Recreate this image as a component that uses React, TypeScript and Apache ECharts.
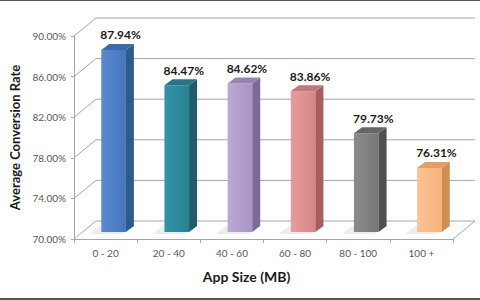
import React, { useEffect, useRef } from "react";
import * as echarts from "echarts";

const categories = ["0 - 20", "20 - 40", "40 - 60", "60 - 80", "80 - 100", "100 +"];
const conversionRates = [87.94, 84.47, 84.62, 83.86, 79.73, 76.31];
const yTicks = [70, 74, 78, 82, 86, 90];
const yMin = 70;
const yMax = 90;
const yStep = 4;

const frontLight = ["#5b8cd2", "#3494a8", "#bba9d6", "#e59e9d", "#8c8c8c", "#fcc595"];
const frontDark = ["#4474b9", "#2a7f92", "#a894c3", "#d48786", "#777777", "#f6b27a"];
const sideColors = ["#2f5a8f", "#1e5c6b", "#7e6a9a", "#a55f5f", "#4f4f4f", "#d28b50"];
const topColors = ["#3e6ba8", "#267586", "#9784b3", "#c07878", "#666666", "#e49e63"];

const FONT = "Lato, 'Open Sans', sans-serif";
const DX = 22;
const DY = 18;
const GRID_COLOR = "#a6a6a6";

export default function App() {
  const ref = useRef<HTMLDivElement>(null);
  useEffect(() => {
    document.body.style.margin = "0";
    if (!ref.current) return;
    const chart = echarts.init(ref.current, undefined, { renderer: "svg" });
    const option: any = {
      animation: false,
      backgroundColor: "#ffffff",
      grid: { left: 70, right: 27, top: 36, bottom: 61 },
      xAxis: {
        type: "category",
        data: categories,
        name: "App Size (MB)",
        nameLocation: "middle",
        nameGap: 30,
        nameTextStyle: {
          fontFamily: FONT,
          fontWeight: "bold",
          fontSize: 14,
          color: "#1a1a1a",
          padding: [0, 34, 0, 0],
        },
        axisLine: { show: true, lineStyle: { color: GRID_COLOR, width: 1 } },
        axisTick: { show: true, length: 4, lineStyle: { color: GRID_COLOR } },
        axisLabel: { color: "#595959", fontSize: 10, fontFamily: FONT, margin: 9 },
        splitLine: { show: false },
      },
      yAxis: {
        type: "value",
        min: yMin,
        max: yMax,
        interval: yStep,
        name: "Average Conversion Rate",
        nameLocation: "middle",
        nameRotate: 90,
        nameGap: 53,
        nameTextStyle: {
          fontFamily: FONT,
          fontWeight: "bold",
          fontSize: 13,
          color: "#1a1a1a",
        },
        axisLine: { show: true, lineStyle: { color: GRID_COLOR, width: 1 } },
        axisTick: { show: true, length: 3, lineStyle: { color: GRID_COLOR } },
        axisLabel: {
          color: "#595959",
          fontSize: 10,
          fontFamily: FONT,
          margin: 8,
          formatter: (v: number) => v.toFixed(2) + "%",
        },
        splitLine: { show: false },
      },
      graphic: [
        { type: "rect", shape: { x: 0, y: 0, width: 480, height: 1 }, style: { fill: "#555555" }, z: 100 },
        { type: "rect", shape: { x: 0, y: 298, width: 480, height: 2 }, style: { fill: "#555555" }, z: 100 },
      ],
      series: [
        {
          type: "custom",
          name: "walls",
          z: 1,
          clip: false,
          silent: true,
          encode: { x: 0, y: 1 },
          data: yTicks.map((v) => [0, v]),
          renderItem: (params: any, api: any) => {
            const cs = params.coordSys;
            const v = api.value(1);
            const y = api.coord([0, v])[1];
            const x0 = cs.x;
            const x1 = cs.x + cs.width;
            const style = { stroke: GRID_COLOR, lineWidth: 1, fill: "none" };
            const children: any[] = [
              { type: "line", shape: { x1: x0, y1: y, x2: x0 + DX, y2: y - DY }, style },
              { type: "line", shape: { x1: x0 + DX, y1: y - DY, x2: x1 + DX, y2: y - DY }, style },
            ];
            if (v === yMin) {
              children.push({ type: "line", shape: { x1: x1, y1: y, x2: x1 + DX, y2: y - DY }, style });
            }
            return { type: "group", children };
          },
        },
        {
          type: "custom",
          name: "Average Conversion Rate",
          z: 2,
          clip: false,
          encode: { x: 0, y: 1 },
          data: conversionRates.map((v, i) => [i, v]),
          renderItem: (params: any, api: any) => {
            const i = params.dataIndex;
            const idx = api.value(0);
            const v = api.value(1);
            const top = api.coord([idx, v]);
            const base = api.coord([idx, yMin]);
            const cw = api.size([1, 0])[0];
            const w = cw * 0.39;
            const ox = 8;
            const oy = 7;
            const bx = 8;
            const by = 6;
            const fx0 = top[0] + ox - w / 2;
            const fx1 = fx0 + w;
            const ft = top[1] - oy;
            const fb = base[1] - oy;
            return {
              type: "group",
              children: [
                {
                  type: "polygon",
                  shape: {
                    points: [
                      [fx0 - 12, fb + 2],
                      [fx1 - 4, fb + 2],
                      [fx1 + bx, fb - by],
                      [fx0 - 2, fb - by],
                    ],
                  },
                  style: { fill: "rgba(0,0,0,0.07)" },
                },
                {
                  type: "rect",
                  shape: { x: fx0, y: ft, width: w, height: fb - ft },
                  style: {
                    fill: new echarts.graphic.LinearGradient(0, 0, 1, 0, [
                      { offset: 0, color: frontLight[i] },
                      { offset: 1, color: frontDark[i] },
                    ]),
                  },
                },
                {
                  type: "polygon",
                  shape: {
                    points: [
                      [fx1, ft],
                      [fx1 + bx, ft - by],
                      [fx1 + bx, fb - by],
                      [fx1, fb],
                    ],
                  },
                  style: { fill: sideColors[i] },
                },
                {
                  type: "polygon",
                  shape: {
                    points: [
                      [fx0, ft],
                      [fx0 + bx, ft - by],
                      [fx1 + bx, ft - by],
                      [fx1, ft],
                    ],
                  },
                  style: { fill: topColors[i] },
                },
                {
                  type: "text",
                  x: top[0] + 15,
                  y: ft - 15,
                  style: {
                    text: v.toFixed(2) + "%",
                    fill: "#1a1a1a",
                    fontSize: 12,
                    fontWeight: "bold",
                    fontFamily: FONT,
                    align: "center",
                    verticalAlign: "middle",
                  },
                },
              ],
            };
          },
        },
      ],
    };
    chart.setOption(option);
    return () => chart.dispose();
  }, []);
  return <div ref={ref} style={{ width: 480, height: 300 }} />;
}
